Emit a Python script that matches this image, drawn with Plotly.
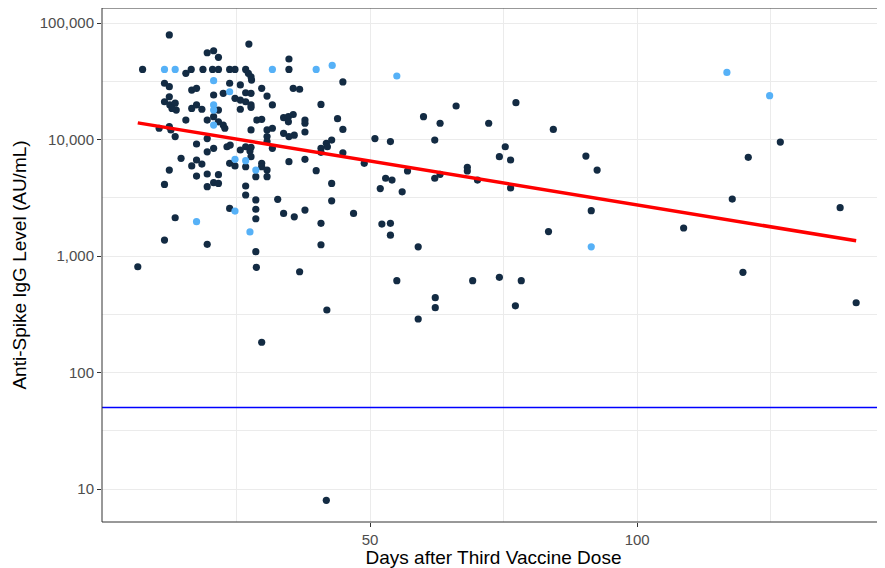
import plotly.graph_objects as go

# ---- data ----
dark_days = [12.4, 19.5, 20.7, 21.6, 7.4, 15.5, 16.5, 18.7, 20.5, 21.6, 23.7, 24.7, 26.7, 27.2, 27.3,
             11.5, 12.4, 23.7, 25.7, 16.6, 17.5, 22.5, 26.7, 20.7, 12.4, 11.5, 12.5, 13.5, 13.7, 12.9,
             16.6, 17.5, 18.5, 21.6, 24.7, 25.7, 26.7, 25.7, 15.5, 19.5, 20.7, 21.6, 22.5, 22.8, 10.5,
             12.4, 12.7, 13.5, 17.5, 19.5, 20.7, 23.2, 23.8, 26.7, 19.5, 25.7, 27.5, 14.6, 17.5, 16.6,
             18.5, 23.7, 24.7, 26.7, 12.4, 17.5, 19.5, 21.6, 20.7, 21.6, 19.5, 11.5, 26.7, 26.7, 23.7,
             13.5, 11.5, 19.5, 6.5, 34.8, 34.8, 44.9, 27.7, 27.8, 29.7, 30.7, 27.7, 35.6, 36.8, 27.7,
             27.7, 31.7, 40.8, 28.8, 29.7, 33.8, 34.7, 35.6, 34.7, 37.8, 37.8, 43.9, 27.7, 30.7, 31.7,
             33.8, 34.8, 35.8, 37.8, 44.9, 30.7, 30.7, 41.8, 42.0, 42.8, 50.9, 53.8, 27.7, 31.7, 40.8,
             27.7, 40.8, 44.9, 48.9, 34.8, 37.8, 29.7, 29.7, 30.7, 30.7, 28.6, 39.9, 52.9, 51.9, 42.8,
             28.6, 32.7, 42.8, 28.6, 28.6, 33.8, 35.8, 37.8, 46.9, 40.8, 52.2, 53.8, 53.8, 40.8, 28.6,
             28.7, 36.8, 41.9, 29.7, 41.8, 60.0, 63.1, 66.1, 72.2, 77.3, 84.3, 62.1, 75.3, 74.2, 76.3,
             90.4, 92.5, 54.1, 57.0, 56.0, 62.1, 63.1, 68.2, 68.2, 70.1, 76.3, 91.4, 83.4, 59.0, 55.0,
             69.2, 74.2, 78.3, 62.2, 62.2, 77.2, 59.0, 126.8, 120.8, 117.8, 138.0, 108.7, 119.8, 141.0]
dark_igg = [79000, 55600, 57800, 50800, 40000, 37000, 40000, 40000, 40000, 40000, 40000, 40000, 40000, 37000, 66000,
            30400, 28400, 30400, 29400, 26600, 27500, 24900, 25200, 24100, 23300, 21100, 19800, 20500, 17900, 18500,
            18500, 19800, 18200, 17900, 22600, 21800, 21100, 18200, 14700, 14700, 15700, 14200, 13300, 12500, 12500,
            12900, 12100, 10600, 9150, 10200, 8400, 8670, 8970, 8670, 7850, 8130, 7960, 6900, 6670, 5930,
            6160, 6250, 5930, 5840, 5470, 4860, 5060, 4990, 4260, 4200, 3940, 4120, 3990, 3340, 2560,
            2130, 1370, 1260, 809, 49100, 40000, 31200, 34600, 32400, 27500, 23600, 24900, 27500, 27000, 19800,
            18900, 19800, 20000, 14700, 14900, 15400, 15700, 16400, 14200, 14700, 13800, 15100, 12100, 12100, 12500,
            11300, 10600, 10900, 11600, 12200, 10600, 9600, 9270, 8670, 9900, 10200, 9600, 8570, 8400, 8400,
            7120, 7760, 7700, 6250, 6450, 6760, 6250, 5840, 5470, 4800, 4800, 5400, 4650, 3790, 4200,
            3030, 3070, 2980, 2520, 2090, 2320, 2170, 2480, 2320, 1910, 1880, 1910, 1510, 1250, 1090,
            800, 733, 344, 182, 8, 15700, 13800, 19400, 13800, 20700, 12200, 9900, 8670, 7120, 6670,
            7210, 5470, 4490, 5370, 3560, 4650, 5030, 5770, 5370, 4490, 3840, 2450, 1620, 1200, 614,
            614, 656, 614, 439, 360, 374, 288, 9500, 7030, 3080, 2600, 1740, 725, 397]

light_days = [11.5, 13.5, 20.7, 23.7, 20.7, 20.7, 20.7, 24.7, 26.7, 24.7, 17.5, 27.5, 31.7, 39.9, 42.9,
              28.6, 55.0, 91.4, 116.8, 124.8]
light_igg = [40000, 40000, 32000, 25700, 19800, 17900, 13300, 6760, 6580, 2430, 1970, 1610, 40000, 40000, 43300,
             5470, 35100, 1200, 37700, 23800]

trend_days = [6.5, 141.0]
trend_igg = [13900, 1350]
threshold = 50

x_ticks = [50, 100]
x_minor = [25, 75, 125]
y_ticks = [10, 100, 1000, 10000, 100000]
y_tick_text = ["10", "100", "1,000", "10,000", "100,000"]
y_minor = [31.6, 316, 3160, 31600]

DARK = "#132B43"
LIGHT = "#56B1F7"

fig = go.Figure()
fig.add_trace(go.Scatter(x=dark_days, y=dark_igg, mode="markers",
                         marker=dict(color=DARK, size=7.2, line=dict(width=0)), showlegend=False))
fig.add_trace(go.Scatter(x=light_days, y=light_igg, mode="markers",
                         marker=dict(color=LIGHT, size=7.2, line=dict(width=0)), showlegend=False))
fig.add_trace(go.Scatter(x=trend_days, y=trend_igg, mode="lines",
                         line=dict(color="#FF0000", width=3.5), showlegend=False))
fig.add_hline(y=threshold, line=dict(color="#0000FF", width=1.5))

# panel border (right edge falls outside the cropped picture)
fig.add_shape(type="rect", xref="paper", yref="paper", x0=0, x1=1.02, y0=0, y1=1,
              line=dict(color="#333333", width=1), layer="above")

# the page body adds an 8px offset, so the figure is sized/margined to compensate
fig.update_layout(
    width=877, height=560,
    margin=dict(l=94, r=0, t=0, b=46, autoexpand=False),
    plot_bgcolor="white", paper_bgcolor="white",
    font=dict(family="Liberation Sans, Arial, sans-serif"),
)
fig.update_xaxes(
    range=[-0.2, 146.4], tickvals=x_ticks, ticks="outside", ticklen=4, tickwidth=1, tickcolor="#333333",
    tickfont=dict(size=15, color="#4D4D4D"), showgrid=True, gridcolor="#EBEBEB", gridwidth=1.1,
    minor=dict(tickvals=x_minor, showgrid=True, gridcolor="#EBEBEB", gridwidth=0.6, ticks=""),
    zeroline=False, showline=False, automargin=False,
    title=dict(text="Days after Third Vaccine Dose", font=dict(size=19, color="black"), standoff=2),
)
fig.update_yaxes(
    type="log", range=[0.717, 5.129], tickvals=y_ticks, ticktext=y_tick_text,
    ticks="outside", ticklen=4, tickwidth=1, tickcolor="#333333",
    tickfont=dict(size=15, color="#4D4D4D"), showgrid=True, gridcolor="#EBEBEB", gridwidth=1.1,
    minor=dict(tickvals=y_minor, showgrid=True, gridcolor="#EBEBEB", gridwidth=0.6, ticks=""),
    zeroline=False, showline=False, automargin=False,
    title=dict(text="Anti-Spike IgG Level (AU/mL)", font=dict(size=19, color="black"), standoff=8),
)

fig.write_html("out.html")
